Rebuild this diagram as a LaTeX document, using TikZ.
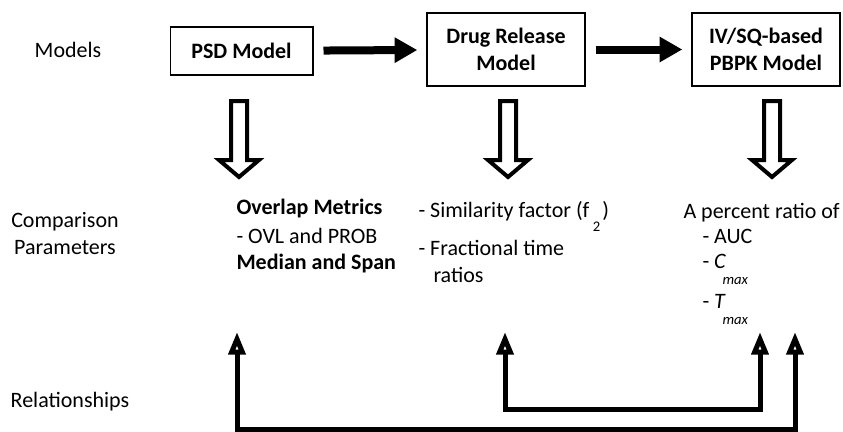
\documentclass[tikz,border=0pt]{standalone}
\usepackage{fontspec}
\setmainfont{Carlito}
\usetikzlibrary{arrows.meta}

\tikzset{every picture/.style={line width=0.75pt}}
\tikzset{
	modelbox/.style={draw, line width=1pt, align=center, inner sep=0pt, font=\fontsize{16.5}{20}\selectfont\bfseries},
	flowarrow/.style={line width=6pt, -{Triangle[length=17pt,width=18pt]}, shorten <=7.5pt, shorten >=6.75pt},
	hollowarrow/.style={line width=3pt, fill=white, line join=miter},
	relarrow/.style={line width=3.75pt, {Triangle[open,length=17pt,width=12.5pt]}-{Triangle[open,length=17pt,width=12.5pt]}},
	label/.style={anchor=base, inner sep=0pt, align=center},
	txt/.style={anchor=base west, inner sep=0pt},
	subtxt/.style={anchor=base west, inner sep=0pt, font=\fontsize{11}{13}\selectfont\itshape},
}

\begin{document}
\begin{tikzpicture}[x=0.75pt,y=0.75pt,yscale=-1,xscale=1,font=\fontsize{16.5}{20}\selectfont]
	\useasboundingbox (0,0) rectangle (843,432);

	% Row labels
	\node[label] (lblmodels) at (68,57) {Models};
	\node[label] (lblcomp) at (65,227) {Comparison};
	\node[label] (lblparam) at (65,254) {Parameters};
	\node[label] (lblrel) at (70,407) {Relationships};

	% Models
	\node[modelbox, minimum width=107pt, minimum height=36pt] (psd) at (241.5,51) {PSD Model};
	\node[modelbox, minimum width=118.5pt, minimum height=54.75pt] (release) at (506,49.5) {Drug Release\\Model};
	\node[modelbox, minimum width=111pt, minimum height=54.75pt] (pbpk) at (766,49.5) {IV/SQ-based\\PBPK Model};

	\draw[flowarrow] (psd) -- (release);
	\draw[flowarrow] (release.east) -- (pbpk.west);

	% Hollow arrows down
	\foreach \cx in {239,508,772}{
		\draw[hollowarrow] (\cx-8,101) -- (\cx+8,101) -- (\cx+8,160) -- (\cx+20,160) -- (\cx,177) -- (\cx-20,160) -- (\cx-8,160) -- cycle;
	}

	% Comparison parameters: PSD
	\node[txt] (ovl1) at (236,214) {\textbf{Overlap Metrics}};
	\node[txt] (ovl2) at (236,243) {- OVL and PROB};
	\node[txt] (ovl3) at (236,269) {\textbf{Median and Span}};

	% Comparison parameters: drug release
	\node[txt] (sim1) at (418,217) {- Similarity factor (f\hspace{2.5pt}\raisebox{-11pt}{\fontsize{11}{13}\selectfont 2}\hspace{1.5pt})};
	\node[txt] (sim2) at (418,255) {- Fractional time};
	\node[txt] (sim3) at (433,282) {ratios};

	% Comparison parameters: PBPK
	\node[txt] (pct1) at (683,218) {A percent ratio of};
	\node[txt] (pct2) at (702,243) {- AUC};
	\node[txt] (pct3) at (702,268) {- \textit{C}};
	\node[subtxt] (pct3s) at (722,284) {max};
	\node[txt] (pct4) at (702,308) {- \textit{T}};
	\node[subtxt] (pct4s) at (722,324) {max};

	% Relationships
	\coordinate (relA) at (237,332);
	\coordinate (relB) at (505,332);
	\coordinate (relC) at (760,332);
	\coordinate (relD) at (795,332);
	\draw[relarrow] (relB) -- (relB |- 0,409) -- (relC |- 0,409) -- (relC);
	\draw[relarrow] (relA) -- (relA |- 0,429) -- (relD |- 0,429) -- (relD);

\end{tikzpicture}
\end{document}
